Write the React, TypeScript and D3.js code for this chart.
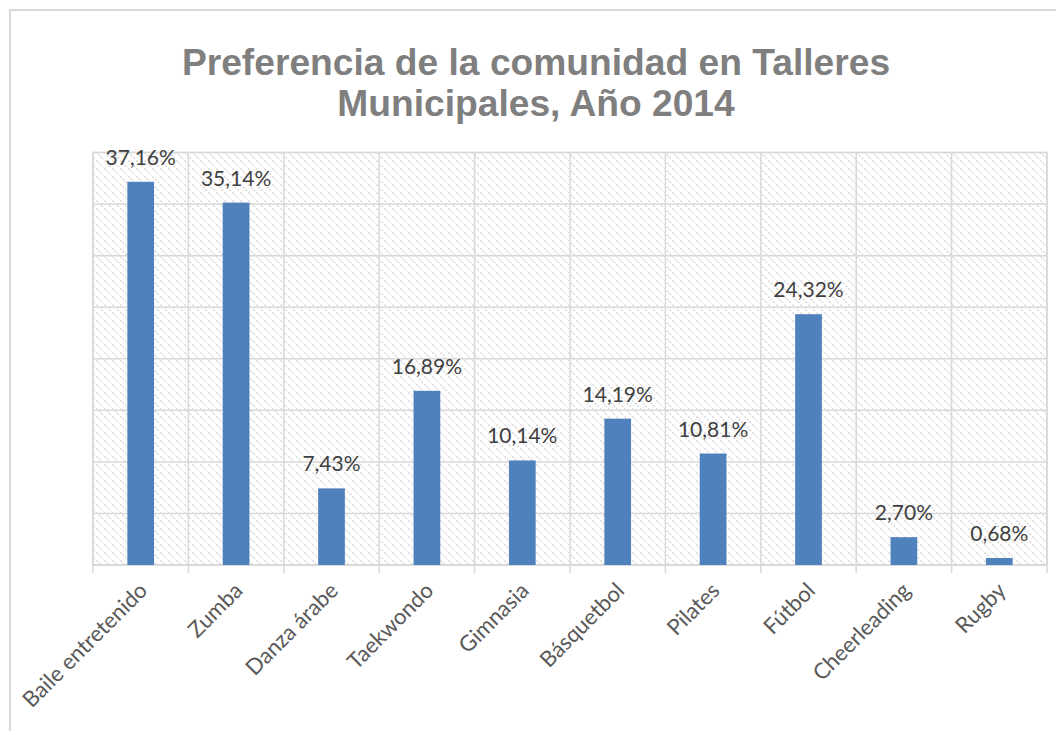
import React from "react";
import * as d3 from "d3";

const categories = ["Baile entretenido", "Zumba", "Danza árabe", "Taekwondo", "Gimnasia", "Básquetbol", "Pilates", "Fútbol", "Cheerleading", "Rugby"];
const values = [37.16, 35.14, 7.43, 16.89, 10.14, 14.19, 10.81, 24.32, 2.70, 0.68];
const gridTicks = [0, 5, 10, 15, 20, 25, 30, 35, 40];
const titleLines = ["Preferencia de la comunidad en Talleres", "Municipales, Año 2014"];

export default function App() {
  const W = 1056, H = 731;
  const left = 93, right = 1047, top = 152.5, bottom = 565;
  const x = d3.scaleBand<string>().domain(categories).range([left, right]).paddingInner(0.72).paddingOuter(0.36);
  const xc = d3.scaleBand<string>().domain(categories).range([left, right]);
  const y = d3.scaleLinear().domain([0, 40]).range([bottom, top]);
  const fmt = (v: number) => v.toFixed(2).replace(".", ",") + "%";
  return (
    <svg width={W} height={H} style={{ position: "absolute", left: 0, top: 0 }}>
      <defs>
        <pattern id="hatch" width="8" height="8" patternUnits="userSpaceOnUse">
          <rect width="8" height="8" fill="#ffffff" />
          <path d="M-2,-2 L10,10 M-2,6 L2,10 M6,-2 L10,2" stroke="#cfcfcf" strokeWidth="1.2" strokeDasharray="2,1.5" />
        </pattern>
      </defs>
      <rect x={0} y={0} width={W} height={H} fill="#fff" />
      <rect x={10} y={10} width={W + 20} height={H + 20} fill="#fff" stroke="#d9d9d9" strokeWidth={2} />
      <rect x={left} y={top} width={right - left} height={bottom - top} fill="url(#hatch)" stroke="#d9d9d9" strokeWidth={1.5} />
      {gridTicks.map((t) => (
        <line key={t} x1={left} x2={right} y1={y(t)} y2={y(t)} stroke="#d9d9d9" strokeWidth={1.5} />
      ))}
      {categories.map((c) => (
        <line key={"v" + c} x1={xc(c)!} x2={xc(c)!} y1={top} y2={bottom + 8} stroke="#d9d9d9" strokeWidth={1.5} />
      ))}
      <line x1={right} x2={right} y1={top} y2={bottom + 8} stroke="#d9d9d9" strokeWidth={1.5} />
      <line x1={left} x2={right} y1={bottom} y2={bottom} stroke="#d9d9d9" strokeWidth={2} />
      {categories.map((c, i) => (
        <rect key={"b" + c} x={x(c)!} y={y(values[i])} width={x.bandwidth()} height={bottom - y(values[i])} fill="#4f81bd" />
      ))}
      {categories.map((c, i) => (
        <text key={"l" + c} x={x(c)! + x.bandwidth() / 2} y={y(values[i]) - 17} textAnchor="middle" fontFamily="Lato, 'Open Sans', sans-serif" fontSize={21} fill="#404040">
          {fmt(values[i])}
        </text>
      ))}
      {categories.map((c) => {
        const cx = xc(c)! + xc.bandwidth() / 2 + 8;
        const cy = bottom + 27;
        return (
          <text key={"a" + c} x={cx} y={cy} transform={`rotate(-45 ${cx} ${cy})`} textAnchor="end" fontFamily="Lato, 'Open Sans', sans-serif" fontSize={22} fill="#595959">
            {c}
          </text>
        );
      })}
      {titleLines.map((t, i) => (
        <text key={t} x={536} y={75 + i * 41} textAnchor="middle" fontFamily="'Liberation Sans', Arial, sans-serif" fontWeight="bold" fontSize={37.2} fill="#7f7f7f">
          {t}
        </text>
      ))}
    </svg>
  );
}
